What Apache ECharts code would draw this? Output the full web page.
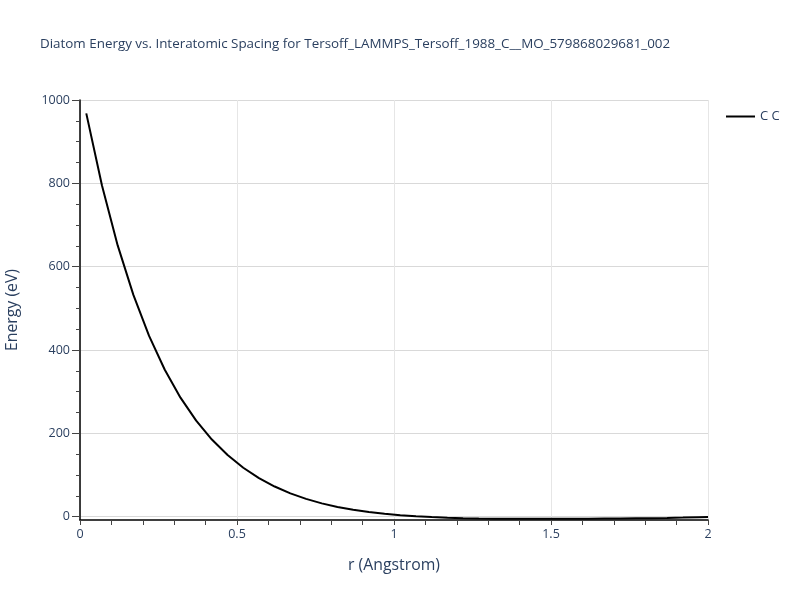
<!DOCTYPE html>
<html>
<head>
<meta charset="utf-8">
<script src="https://cdn.jsdelivr.net/npm/echarts@6/dist/echarts.min.js"></script>
<style>html,body{margin:0;padding:0;background:#fff}#c{width:800px;height:600px}</style>
</head>
<body>
<div id="c"></div>
<script>
const titleText = 'Diatom Energy vs. Interatomic Spacing for Tersoff_LAMMPS_Tersoff_1988_C__MO_579868029681_002';
const seriesName = 'C C';
const rValues = [0.02,0.07,0.12,0.17,0.22,0.27,0.32,0.37,0.42,0.47,0.52,0.57,0.62,0.67,0.72,0.77,0.82,0.87,0.92,0.97,1.02,1.07,1.12,1.17,1.22,1.27,1.32,1.37,1.42,1.47,1.52,1.57,1.62,1.67,1.72,1.77,1.82,1.87,1.92,1.97,2.0];
const energyValues = [967.96,794.70,651.09,532.19,433.86,352.64,285.65,230.49,185.14,147.94,117.49,92.61,72.36,55.91,42.61,31.89,23.29,16.44,11.01,6.74,3.42,0.86,-1.07,-2.51,-3.55,-4.27,-4.74,-5.02,-5.14,-5.15,-5.07,-4.92,-4.73,-4.50,-4.26,-4.00,-3.71,-3.04,-2.12,-1.18,-0.71];
const yMajorTicks = [0,200,400,600,800,1000];
const yMinorTicks = [50,100,150,250,300,350,450,500,550,650,700,750,850,900,950];
const xTickLabels = ['0','0.5','1','1.5','2'];

const txt = '#2a3f5f';
const font = 'Open Sans';
const chart = echarts.init(document.getElementById('c'), null, {renderer:'canvas'});
chart.setOption({
  animation:false,
  backgroundColor:'#fff',
  title:{text:titleText,left:35,top:33,padding:5,textStyle:{color:txt,fontSize:13.4,fontWeight:'normal',fontFamily:font}},
  legend:{data:[seriesName],left:721,top:105,icon:'rect',itemWidth:29,itemHeight:2,itemGap:6,
    textStyle:{color:txt,fontSize:13,fontFamily:font}},
  grid:{left:80,top:100,width:628,height:420,containLabel:false,outerBoundsMode:'none'},
  xAxis:{type:'value',min:0,max:2,interval:0.5,
    name:'r (Angstrom)',nameLocation:'middle',nameGap:37,
    nameTextStyle:{color:txt,fontSize:15.8,fontFamily:font},
    axisLine:{show:true,onZero:false,lineStyle:{color:'#000',width:1.5}},
    axisTick:{show:true,length:5,lineStyle:{color:'#444'}},
    minorTick:{show:true,splitNumber:5,length:5,lineStyle:{color:'#444'}},
    axisLabel:{color:txt,fontSize:12.5,fontFamily:font,margin:8,
      formatter:function(v){const i=Math.round(v/0.5);return xTickLabels[i]!==undefined?xTickLabels[i]:'';}},
    splitLine:{show:true,lineStyle:{color:'#e6e6e6',width:1}}
  },
  yAxis:[{type:'value',min:-8,max:1000,
    name:'Energy (eV)',nameLocation:'middle',nameGap:60,
    nameTextStyle:{color:txt,fontSize:15.8,fontFamily:font},
    axisLine:{show:true,onZero:false,lineStyle:{color:'#000',width:1.5}},
    axisTick:{show:true,length:8,customValues:yMajorTicks,lineStyle:{color:'#444'}},
    axisLabel:{color:txt,fontSize:12.5,fontFamily:font,margin:10,customValues:yMajorTicks,
      formatter:function(v){return String(v);}},
    splitLine:{show:true,lineStyle:{color:'#d9d9d9',width:1}}
  },{type:'value',min:-8,max:1000,position:'left',
    axisLine:{show:false},
    axisTick:{show:true,length:4,customValues:yMinorTicks,lineStyle:{color:'#444'}},
    axisLabel:{show:false},
    splitLine:{show:false}
  }],
  series:[{name:seriesName,type:'line',yAxisIndex:0,showSymbol:false,symbol:'none',
    lineStyle:{color:'#000',width:2},itemStyle:{color:'#000'},
    data:rValues.map((r,i)=>[r,energyValues[i]])}]
});
</script>
</body>
</html>
